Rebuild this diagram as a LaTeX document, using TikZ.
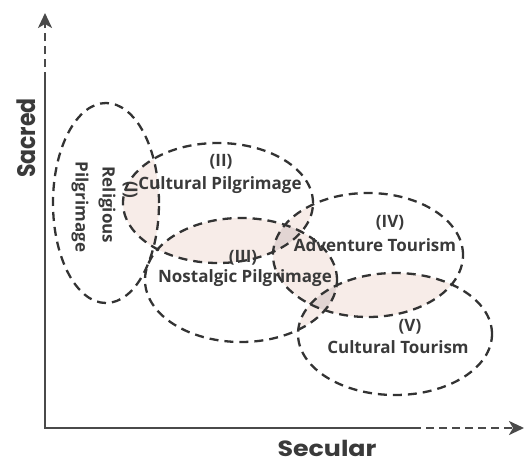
\documentclass[tikz,border=0pt]{standalone}
\usepackage{fontspec}
\setmainfont{Open Sans}
\newfontfamily\axisfont{Poppins}
\usetikzlibrary{arrows.meta}

\definecolor{ink}{HTML}{3A3A3A}
\definecolor{lineink}{HTML}{333333}
\definecolor{axisink}{HTML}{4A4A4A}
\definecolor{overlap}{HTML}{F7ECE8}
\definecolor{overlapdeep}{HTML}{E2D5D3}

% the five regions of the sacred--secular plane
\def\regionI{(106,203) ellipse [x radius=53pt, y radius=100pt]}
\def\regionII{(218,203) ellipse [x radius=95pt, y radius=60pt]}
\def\regionIII{(241,280) ellipse [x radius=96pt, y radius=62pt]}
\def\regionIV{(368,255) ellipse [x radius=95pt, y radius=62pt]}
\def\regionV{(395,334) ellipse [x radius=97pt, y radius=61pt]}

\begin{document}
\begin{tikzpicture}[x=1pt, y=-1pt,
  region/.style={draw=lineink, line width=2.3pt, dash pattern=on 9pt off 6pt},
  axisline/.style={draw=axisink, line width=2.3pt},
  axisdash/.style={draw=axisink, line width=2.3pt, dash pattern=on 8pt off 5pt,
    -{Stealth[length=15pt, width=14pt, inset=4pt]}},
  lbl/.style={text=ink, font=\bfseries\fontsize{17}{19}\selectfont, inner sep=0pt},
  axislbl/.style={text=ink, font=\axisfont\bfseries\fontsize{22}{24}\selectfont,
    inner sep=0pt, xscale=1.15}]
\useasboundingbox (0,0) rectangle (529,461);

% pairwise overlaps
\foreach \a/\b in {\regionI/\regionII, \regionII/\regionIII, \regionII/\regionIV,
                   \regionIII/\regionIV, \regionIII/\regionV, \regionIV/\regionV} {
  \begin{scope}
    \clip \a;
    \fill[overlap] \b;
  \end{scope}
}
% triple overlaps
\begin{scope}
  \clip \regionII; \clip \regionIII; \fill[overlapdeep] \regionIV;
\end{scope}
\begin{scope}
  \clip \regionIII; \clip \regionIV; \fill[overlapdeep] \regionV;
\end{scope}

% outlines
\path[region] \regionI;
\path[region] \regionII;
\path[region] \regionIII;
\path[region] \regionIV;
\path[region] \regionV;

% axes
\coordinate (origin) at (45,428);
\coordinate (ysolid) at (45,80);
\coordinate (ytop) at (45,13);
\coordinate (xsolid) at (413,428);
\coordinate (xend) at (524,428);
\draw[axisline] (ysolid) -- (origin) -- (xsolid);
\draw[axisdash] (ysolid) -- (ytop);
\draw[axisdash] (xsolid) -- (xend);

\node[axislbl, rotate=90] (sacred) at (26,138) {Sacred};
\node[axislbl] (secular) at (327,448) {Secular};

% region labels
\node[lbl, rotate=-90] (numI) at (130,190) {(I)};
\node[lbl, rotate=-90] (religious) at (107,205) {Religious};
\node[lbl, rotate=-90] (pilgrimI) at (80,207) {Pilgrimage};

\node[lbl] (numII) at (221,162) {(II)};
\node[lbl] (cultpil) at (220,185) {Cultural Pilgrimage};

\node[lbl] (numIII) at (243,258) {(III)};
\node[lbl] (nostpil) at (245,278) {Nostalgic Pilgrimage};

\node[lbl] (numIV) at (390,223) {(IV)};
\node[lbl] (advtour) at (375,245) {Adventure Tourism};

\node[lbl] (numV) at (410,327) {(V)};
\node[lbl] (culttour) at (398,347) {Cultural Tourism};
\end{tikzpicture}
\end{document}
